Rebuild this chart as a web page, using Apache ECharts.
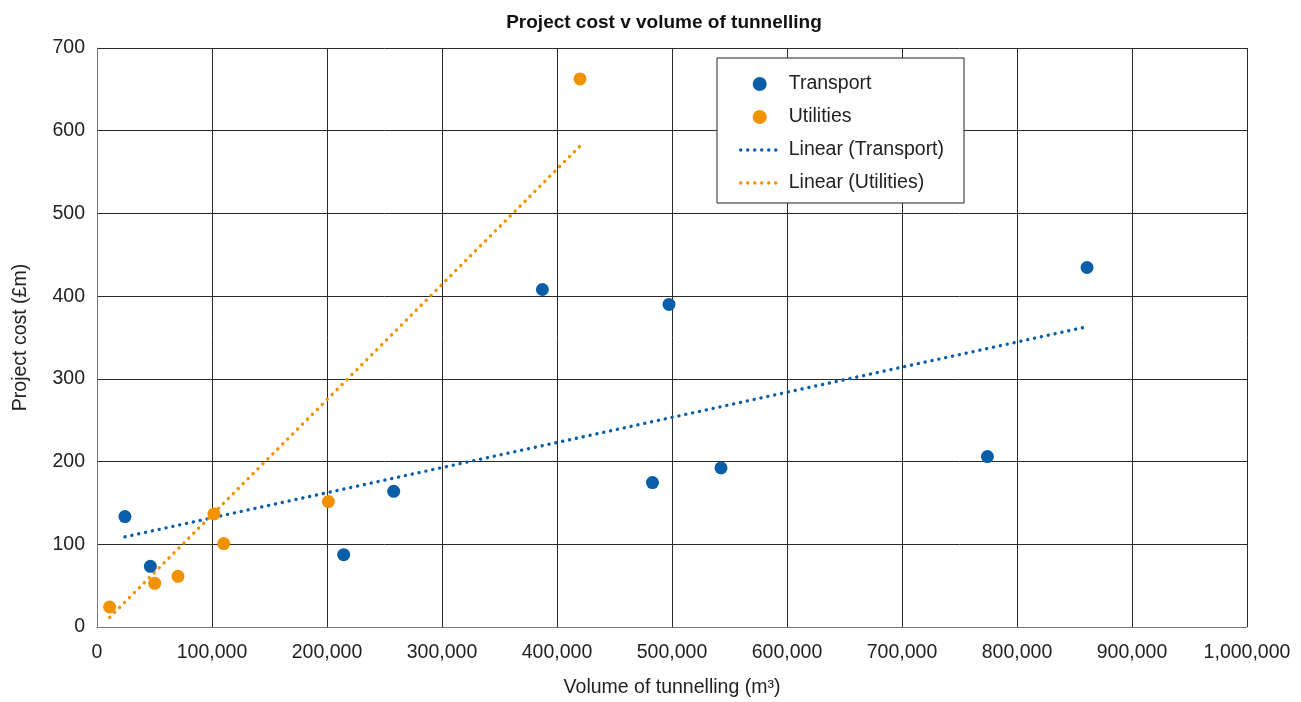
<!DOCTYPE html>
<html>
<head>
<meta charset="utf-8">
<title>Project cost v volume of tunnelling</title>
<script src="https://cdn.jsdelivr.net/npm/echarts@6/dist/echarts.min.js"></script>
<style>
  html, body { margin: 0; padding: 0; background: #fff; }
  #chart { width: 1301px; height: 702px; }
</style>
</head>
<body>
<div id="chart"></div>
<script>
// Tunnelling volume (m³) and project cost (£m) for each project
const transportVolume = [24300, 46400, 214500, 258000, 387300, 497400, 483000, 542600, 774300, 860900];
const transportCost   = [133.5, 73.4, 87.5, 164, 408, 390, 174.6, 192.3, 206, 434.6];
const utilitiesVolume = [11000, 50200, 70400, 101700, 110200, 201200, 420000];
const utilitiesCost   = [24.2, 52.8, 61.3, 136.6, 100.8, 151.6, 662.6];

// Linear trend lines: [volume, cost] at the start and end of each fit
const transportTrend = [[24300, 109], [860900, 363]];
const utilitiesTrend = [[11000, 11.6], [419600, 580.9]];

// Axis ranges and steps
const xTicks = { min: 0, max: 1000000, step: 100000 };
const yTicks = { min: 0, max: 700, step: 100 };

const BLUE = '#0a5ea8';
const ORANGE = '#f39200';
const FONT = 'Liberation Sans, Arial, sans-serif';
const TEXT = '#222';

function withCommas(v) {
  return String(Math.round(v)).replace(/\B(?=(\d{3})+(?!\d))/g, ',');
}
function pairs(xs, ys) {
  return xs.map((x, i) => [x, ys[i]]);
}

const dotted = (color) => ({ color: color, width: 3.4, type: [0.1, 6.9], cap: 'round' });

const chart = echarts.init(document.getElementById('chart'), null, { renderer: 'canvas' });
chart.setOption({
  animation: false,
  backgroundColor: '#fff',
  textStyle: { fontFamily: FONT },
  title: {
    text: 'Project cost v volume of tunnelling',
    left: 659, top: 8, textAlign: 'center',
    textStyle: { fontFamily: FONT, fontSize: 19, fontWeight: 'bold', color: '#111' }
  },
  grid: { left: 97, right: 54, top: 48, bottom: 75, outerBoundsMode: 'none' },
  legend: {
    orient: 'vertical',
    left: 717, top: 58,
    padding: [16, 20, 10, 22],
    itemGap: 13,
    itemWidth: 38, itemHeight: 14,
    borderColor: '#222', borderWidth: 1,
    backgroundColor: '#fff',
    lineStyle: { width: 3.4 },
    textStyle: { fontFamily: FONT, fontSize: 19.5, color: TEXT, padding: [0, 0, 0, 5] },
    data: [
      'Transport',
      'Utilities',
      // trend entries show only their dotted line, no marker
      { name: 'Linear (Transport)', itemStyle: { opacity: 0 } },
      { name: 'Linear (Utilities)', itemStyle: { opacity: 0 } }
    ]
  },
  xAxis: {
    type: 'value',
    min: xTicks.min, max: xTicks.max, interval: xTicks.step,
    name: 'Volume of tunnelling (m³)',
    nameLocation: 'middle', nameGap: 51,
    nameTextStyle: { fontFamily: FONT, fontSize: 19.5, color: TEXT },
    axisLine: { show: true, lineStyle: { color: '#777', width: 1 } },
    axisTick: { show: false },
    axisLabel: { margin: 16, fontFamily: FONT, fontSize: 19.5, color: TEXT, formatter: withCommas },
    splitLine: { show: true, lineStyle: { color: '#2a2a2a', width: 1 } }
  },
  yAxis: {
    type: 'value',
    min: yTicks.min, max: yTicks.max, interval: yTicks.step,
    name: 'Project cost (£m)',
    nameLocation: 'middle', nameGap: 66,
    nameTextStyle: { fontFamily: FONT, fontSize: 19.5, color: TEXT },
    axisLine: { show: true, lineStyle: { color: '#777', width: 1 } },
    axisTick: { show: false },
    axisLabel: { margin: 12, fontFamily: FONT, fontSize: 19.5, color: TEXT },
    splitLine: { show: true, lineStyle: { color: '#2a2a2a', width: 1 } }
  },
  series: [
    {
      name: 'Linear (Transport)', type: 'line', z: 2,
      data: transportTrend, symbol: 'none', silent: true,
      itemStyle: { color: BLUE }, lineStyle: dotted(BLUE)
    },
    {
      name: 'Linear (Utilities)', type: 'line', z: 2,
      data: utilitiesTrend, symbol: 'none', silent: true,
      itemStyle: { color: ORANGE }, lineStyle: dotted(ORANGE)
    },
    {
      name: 'Transport', type: 'scatter', z: 3,
      data: pairs(transportVolume, transportCost),
      symbol: 'circle', symbolSize: 13,
      itemStyle: { color: BLUE, opacity: 1 }
    },
    {
      name: 'Utilities', type: 'scatter', z: 3,
      data: pairs(utilitiesVolume, utilitiesCost),
      symbol: 'circle', symbolSize: 13,
      itemStyle: { color: ORANGE, opacity: 1 }
    }
  ]
});
</script>
</body>
</html>
